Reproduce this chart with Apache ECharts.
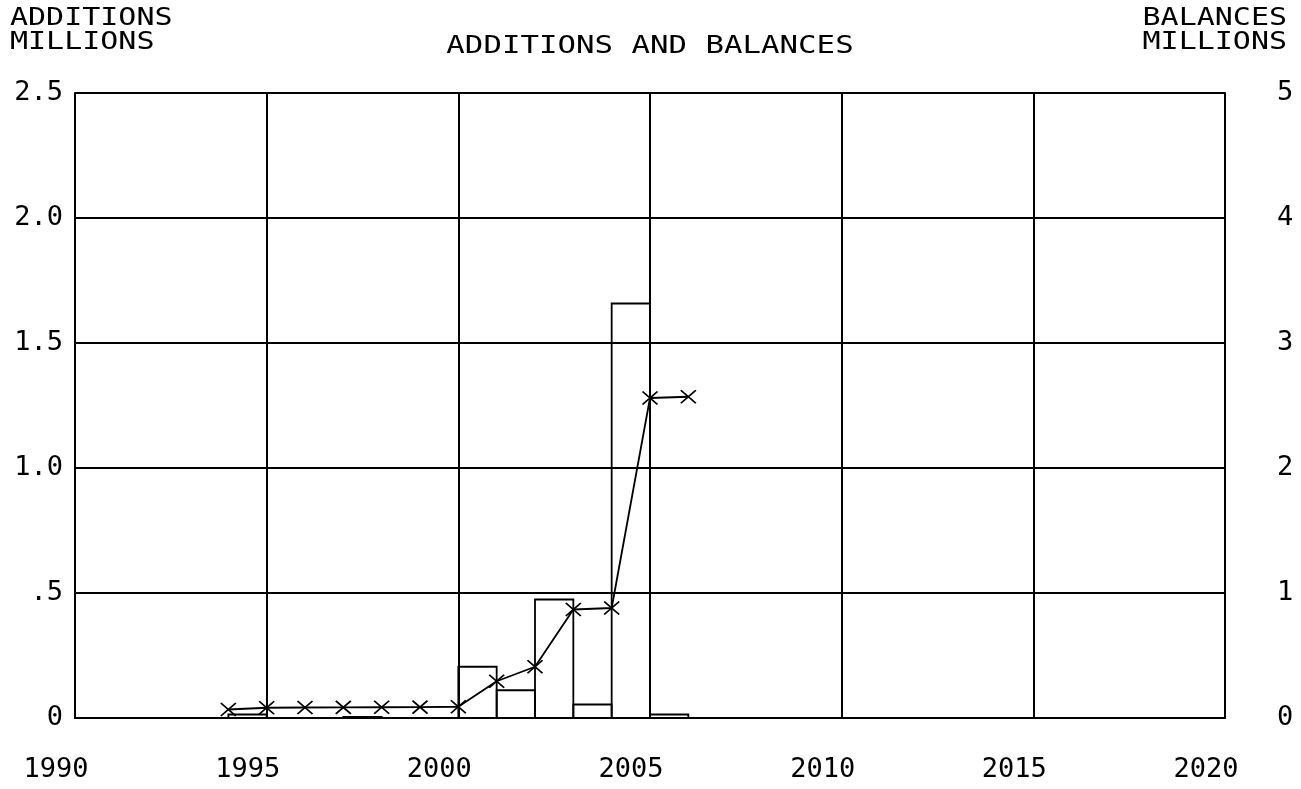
<!DOCTYPE html>
<html>
<head>
<meta charset="utf-8">
<script src="https://cdn.jsdelivr.net/npm/echarts@6/dist/echarts.min.js"></script>
<style>
    html, body { margin: 0; padding: 0; background: #fff; }
    #chart { width: 1301px; height: 789px; }
</style>
</head>
<body>
<div id="chart"></div>
<script>
// additions (bars, left axis) - each bar covers [year, year+1]
var addYears = [1994, 1997, 2000, 2001, 2002, 2003, 2004, 2005];
var additions = [0.014, 0.004, 0.205, 0.111, 0.474, 0.054, 1.658, 0.014];

// balances (line, right axis)
var balYears = [1994, 1995, 1996, 1997, 1998, 1999, 2000, 2001, 2002, 2003, 2004, 2005, 2006];
var balances = [0.068, 0.082, 0.084, 0.085, 0.086, 0.087, 0.09, 0.294, 0.41, 0.868, 0.88, 2.56, 2.57];

var leftTicks = ['0', '.5', '1.0', '1.5', '2.0', '2.5'];
var rightTicks = ['0', '1', '2', '3', '4', '5'];

var FONT = 'DejaVu Sans Mono';

function ChartController() {

    this.init = function(divId) {
        this.chart = echarts.init(document.getElementById(divId));
        this.chart.setOption(this.buildOption());
    };

    this.buildOption = function() {
        var barData = [];
        for (var i = 0; i < addYears.length; i++) {
            barData.push([addYears[i], additions[i]]);
        }
        var lineData = [];
        for (var j = 0; j < balYears.length; j++) {
            lineData.push([balYears[j], balances[j]]);
        }

        var labelStyle = { color: '#000', fontFamily: FONT, fontSize: 27 };

        return {
            animation: false,
            backgroundColor: '#fff',
            grid: { left: 75, right: 76, top: 93, bottom: 71 },
            graphic: [
                { type: 'text', left: 10, top: 6, scaleX: 1.2,
                  style: { text: 'ADDITIONS\nMILLIONS', fill: '#000', font: '25px ' + FONT, lineHeight: 24 } },
                { type: 'text', x: 650, y: 46, scaleX: 1.23,
                  style: { text: 'ADDITIONS AND BALANCES', fill: '#000', font: '25px ' + FONT,
                           align: 'center', verticalAlign: 'middle' } },
                { type: 'text', right: 14, top: 6, scaleX: 1.2,
                  style: { text: 'BALANCES\nMILLIONS', fill: '#000', font: '25px ' + FONT, lineHeight: 24, align: 'right' } }
            ],
            xAxis: {
                type: 'value', min: 1990, max: 2020, interval: 5,
                axisLine: { show: true, lineStyle: { color: '#000', width: 2 } },
                axisTick: { show: false },
                splitLine: { show: true, lineStyle: { color: '#000', width: 2 } },
                axisLabel: Object.assign({ margin: 38, align: 'center', padding: [0, 38, 0, 0],
                    formatter: function(v) { return String(v); } }, labelStyle)
            },
            yAxis: [
                {
                    type: 'value', min: 0, max: 2.5, interval: 0.5, position: 'left',
                    axisLine: { show: true, lineStyle: { color: '#000', width: 2 } },
                    axisTick: { show: false },
                    splitLine: { show: true, lineStyle: { color: '#000', width: 2 } },
                    axisLabel: Object.assign({ margin: 12,
                        formatter: function(v) { return leftTicks[Math.round(v / 0.5)]; } }, labelStyle)
                },
                {
                    type: 'value', min: 0, max: 5, interval: 1, position: 'right',
                    axisLine: { show: true, lineStyle: { color: '#000', width: 2 } },
                    axisTick: { show: false },
                    splitLine: { show: false },
                    axisLabel: Object.assign({ margin: 52, align: 'left',
                        formatter: function(v) { return rightTicks[Math.round(v)]; } }, labelStyle)
                }
            ],
            series: [
                {
                    name: 'Additions',
                    type: 'custom',
                    xAxisIndex: 0,
                    yAxisIndex: 0,
                    data: barData,
                    encode: { x: 0, y: 1 },
                    renderItem: function(params, api) {
                        var x0 = api.value(0);
                        var p0 = api.coord([x0, 0]);
                        var p1 = api.coord([x0 + 1, api.value(1)]);
                        return {
                            type: 'rect',
                            shape: { x: p0[0], y: p1[1], width: p1[0] - p0[0], height: p0[1] - p1[1] },
                            style: { fill: 'none', stroke: '#000', lineWidth: 1.8 }
                        };
                    },
                    z: 3
                },
                {
                    name: 'Balances',
                    type: 'line',
                    xAxisIndex: 0,
                    yAxisIndex: 1,
                    data: lineData,
                    symbol: 'path://M0 0L14 12M14 0L0 12',
                    symbolSize: [15, 13],
                    lineStyle: { color: '#000', width: 1.8 },
                    itemStyle: { color: 'none', borderColor: '#000', borderWidth: 1.8 },
                    z: 4
                }
            ]
        };
    };
}

new ChartController().init('chart');
</script>
</body>
</html>
